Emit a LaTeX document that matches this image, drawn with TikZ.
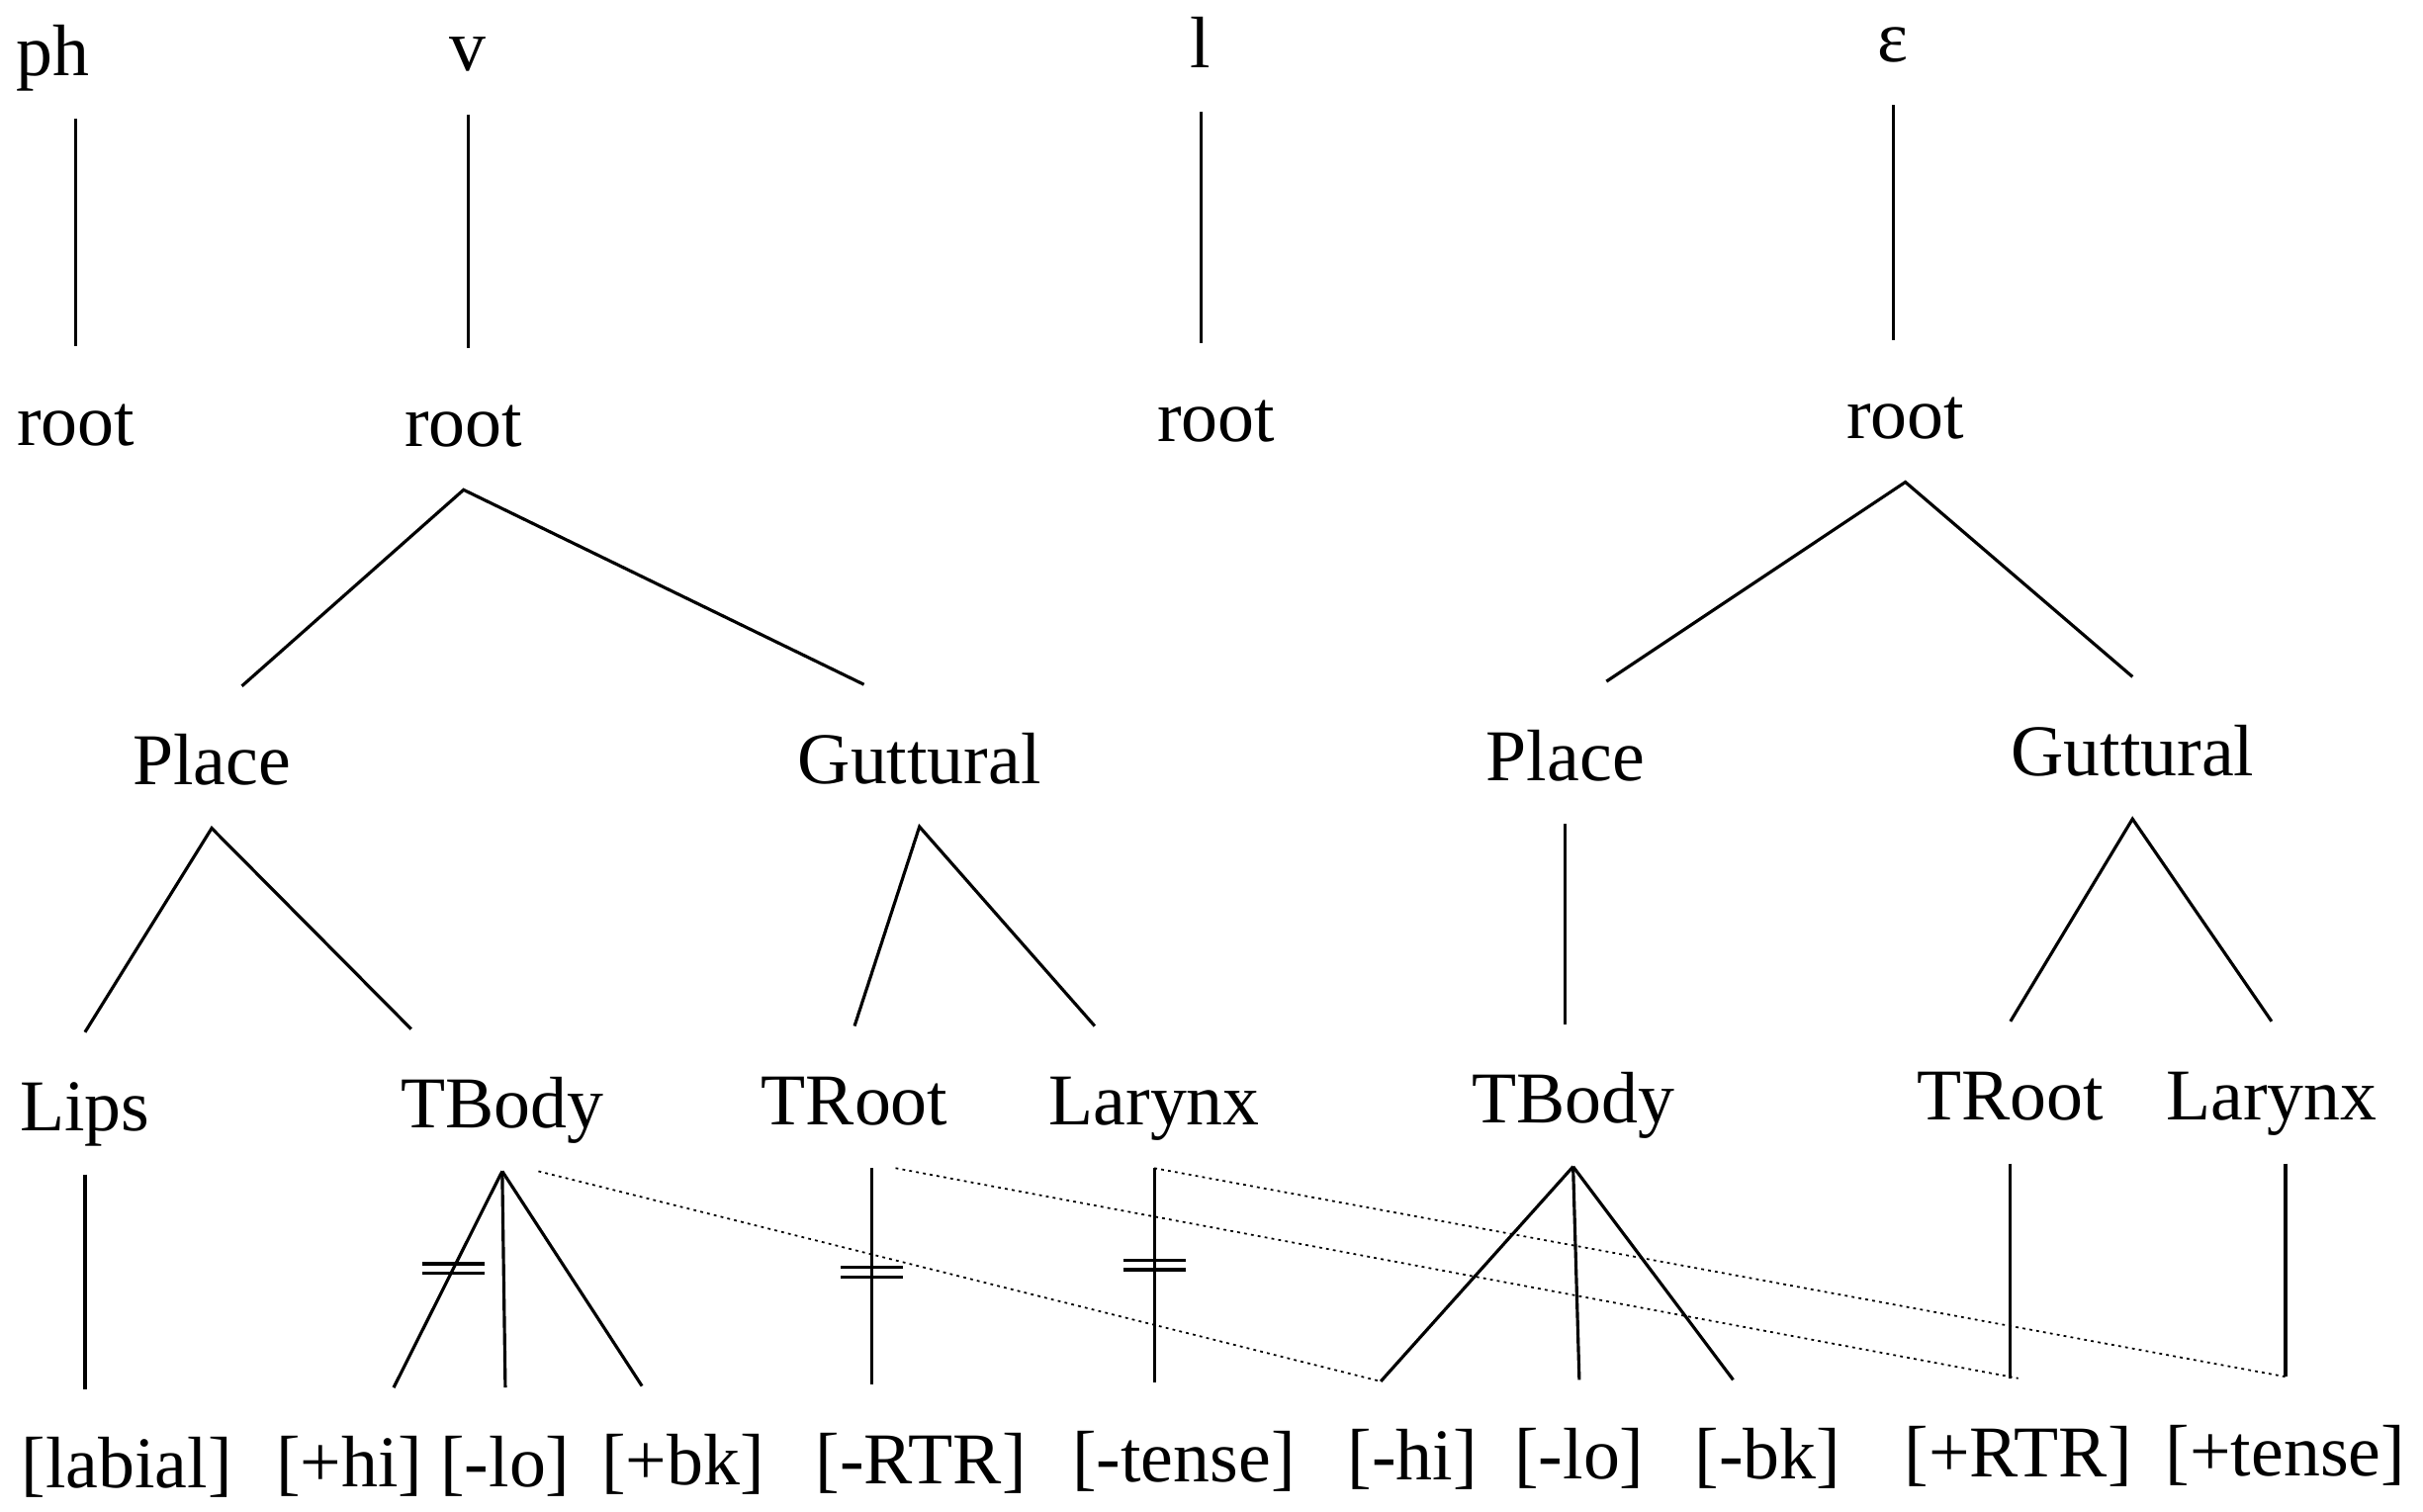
\documentclass[tikz,border=0pt]{standalone}
\usepackage{fontspec}
\setmainfont{Liberation Serif}
\begin{document}
\begin{tikzpicture}[x=0.015625cm,y=-0.015625cm,line width=0.9pt,
    every node/.style={anchor=base,inner xsep=3pt,inner ysep=9pt,
      text height=19pt,text depth=3pt,font=\fontsize{21}{25}\selectfont},
    spread/.style={line width=0.5pt,dash pattern=on 0.8pt off 1.2pt}]
\useasboundingbox (0,0) rectangle (1568,978);
% segments and roots
\node (segPh) at (34,49) {ph};
\node (segV) at (303,46) {v};
\node (segL) at (777,44) {l};
\node (segE) at (1225,40) {ɛ};
\node (rootPh) at (49,288) {root};
\node (rootV) at (300,289) {root};
\node (rootL) at (787,286) {root};
\node (rootE) at (1233,284) {root};
% class nodes
\node (placeV) at (137,508) {Place};
\node (gutV) at (595,507) {Guttural};
\node (placeE) at (1013,505) {Place};
\node (gutE) at (1380,502) {Guttural};
\node (lipsV) at (55,732) {Lips};
\node (tbodyV) at (325,730) {TBody};
\node (trootV) at (553,728) {TRoot};
\node (larynxV) at (747,728) {Larynx};
\node (tbodyE) at (1018,727) {TBody};
\node (trootE) at (1301,725) {TRoot};
\node (larynxE) at (1470,725) {Larynx};
% features
\node (labial) at (82,963) {[labial]};
\node (hiV) at (226,962) {[+hi]};
\node (loV) at (327,962) {[-lo]};
\node (bkV) at (442,961) {[+bk]};
\node (rtrV) at (596,960) {[-RTR]};
\node (tenseV) at (766,959) {[-tense]};
\node (hiE) at (914,958) {[-hi]};
\node (loE) at (1022,957) {[-lo]};
\node (bkE) at (1144,957) {[-bk]};
\node (rtrE) at (1306,956) {[+RTR]};
\node (tenseE) at (1479,955) {[+tense]};
% links
\draw (rootPh.north |- segPh.south) -- (rootPh.north);
\draw (segV.south) -- (segV.south |- rootV.north);
\draw (segL.south) -- (segL.south |- rootL.north);
\draw (segE.south) -- (segE.south |- rootE.north);
\draw (placeV.67) -- (rootV.south) -- (gutV.128);
\draw (lipsV.north) -- (placeV.south) -- (tbodyV.142);
\draw (trootV.north) -- (gutV.south) -- (larynxV.130);
\draw (lipsV.south) -- (lipsV.south |- labial.north);
\draw (tbodyV.south) -- coordinate[pos=.45] (cutHi) (hiV.58);
\draw (tbodyV.south) -- (loV.north);
\draw (tbodyV.south) -- (bkV.120);
\draw ([xshift=5pt]trootV.south) -- coordinate[pos=.48] (cutRtr) ([xshift=5pt]trootV.south |- rtrV.north);
\draw (larynxV.south) -- coordinate[pos=.45] (cutTense) (larynxV.south |- tenseV.north);
\draw (placeE.60) -- (rootE.south) -- (gutE.north);
\draw (placeE.south) -- (placeE.south |- tbodyE.north);
\draw (trootE.north) -- (gutE.south) -- (larynxE.north);
\draw (tbodyE.south) -- (hiE.114);
\draw (tbodyE.south) -- (loE.north);
\draw (tbodyE.south) -- (bkE.116);
\draw (trootE.south) -- (trootE.south |- rtrE.north);
\draw (larynxE.south -| tenseE.north) -- (tenseE.north);
% delinked
\foreach \c in {cutHi,cutRtr,cutTense}
  \draw ([shift={(-9pt,-1.4pt)}]\c) -- ++(18pt,0) ([shift={(-9pt,1.4pt)}]\c) -- ++(18pt,0);
% spreading
\draw[spread] (tbodyV.-63) -- (hiE.114);
\draw[spread] (trootV.-60) -- (rtrE.north);
\draw[spread] (larynxV.south) -- (tenseE.north);
\end{tikzpicture}
\end{document}
